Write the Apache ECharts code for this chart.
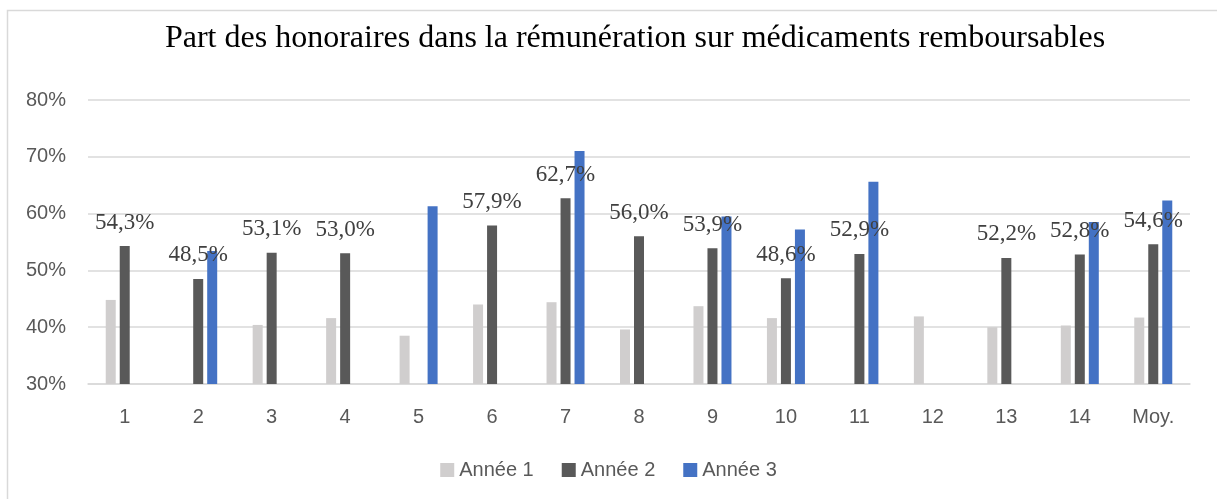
<!DOCTYPE html>
<html>
<head>
    <meta charset="utf-8">
    <title>Part des honoraires</title>
    <script src="https://cdn.jsdelivr.net/npm/echarts@6/dist/echarts.min.js"></script>
    <style>
        html, body { margin: 0; padding: 0; background: #fff; }
    </style>
</head>
<body>
    <div id="main" style="width: 1217px;height:499px;"></div>
    <script type="text/javascript">
        // categories (pharmacies + moyenne)
        var categories = ['1', '2', '3', '4', '5', '6', '7', '8', '9', '10', '11', '12', '13', '14', 'Moy.'];
        // values in %, null = no bar
        var annee1 = [44.8, null, 40.4, 41.6, 38.5, 44.0, 44.4, 39.6, 43.7, 41.6, null, 41.9, 40.0, 40.3, 41.7];
        var annee2 = [54.3, 48.5, 53.1, 53.0, null, 57.9, 62.7, 56.0, 53.9, 48.6, 52.9, null, 52.2, 52.8, 54.6];
        var annee3 = [null, 53.4, null, null, 61.3, null, 71.0, null, 59.5, 57.2, 65.6, null, null, 58.5, 62.3];

        var chartDom = document.getElementById('main');
        var myChart = echarts.init(chartDom, null, {renderer: 'canvas'});

        function fmt(v) {
            return v.toFixed(1).replace('.', ',') + '%';
        }

        var option = {
            animation: false,
            title: {
                text: 'Part des honoraires dans la rémunération sur médicaments remboursables',
                left: 630,
                textAlign: 'center',
                top: 18,
                textStyle: {
                    fontFamily: 'Liberation Serif',
                    fontSize: 32,
                    fontWeight: 'normal',
                    color: '#000'
                }
            },
            graphic: [{
                type: 'rect',
                shape: {x: 7.5, y: 10.5, width: 1240, height: 520},
                style: {fill: 'none', stroke: '#d9d9d9', lineWidth: 1.5},
                silent: true
            }],
            legend: {
                top: 455,
                left: 'center',
                itemWidth: 14,
                itemHeight: 14,
                itemGap: 28,
                icon: 'rect',
                textStyle: {
                    fontFamily: 'Liberation Sans',
                    fontSize: 20,
                    color: '#595959'
                },
                data: ['Année 1', 'Année 2', 'Année 3']
            },
            grid: {
                left: 88,
                right: 27,
                top: 100,
                bottom: 115,
                containLabel: false
            },
            xAxis: {
                type: 'category',
                data: categories,
                axisTick: {show: false},
                axisLine: {lineStyle: {color: '#d9d9d9', width: 1.5}},
                axisLabel: {
                    fontFamily: 'Liberation Sans',
                    fontSize: 20,
                    color: '#595959',
                    margin: 23
                }
            },
            yAxis: {
                type: 'value',
                min: 30,
                max: 80,
                interval: 10,
                axisLine: {show: false},
                axisTick: {show: false},
                splitLine: {lineStyle: {color: '#d9d9d9', width: 1.5}},
                axisLabel: {
                    formatter: '{value}%',
                    fontFamily: 'Liberation Sans',
                    fontSize: 20,
                    color: '#595959',
                    margin: 22
                }
            },
            series: [{
                name: 'Année 1',
                type: 'bar',
                data: annee1,
                barWidth: 10,
                barGap: '40%',
                itemStyle: {color: '#d0cece'}
            }, {
                name: 'Année 2',
                type: 'bar',
                data: annee2,
                barWidth: 10,
                barGap: '40%',
                itemStyle: {color: '#595959'},
                label: {
                    show: true,
                    position: 'top',
                    distance: 12,
                    formatter: function (p) { return fmt(p.value); },
                    fontFamily: 'Liberation Serif',
                    fontSize: 23,
                    color: '#404040'
                }
            }, {
                name: 'Année 3',
                type: 'bar',
                data: annee3,
                barWidth: 10,
                barGap: '40%',
                itemStyle: {color: '#4472c4'}
            }]
        };
        myChart.setOption(option);
    </script>
</body>
</html>
